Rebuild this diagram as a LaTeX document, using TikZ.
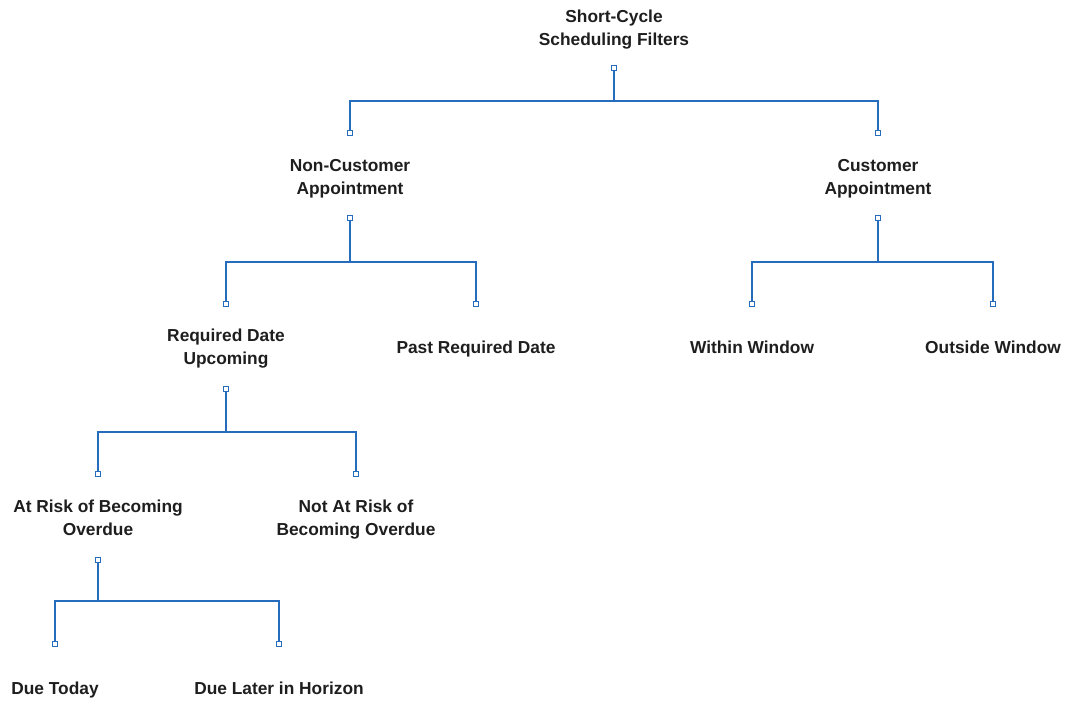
\documentclass[tikz,border=0pt]{standalone}
\usepackage{fontspec}
\setmainfont{Liberation Sans}
\definecolor{linec}{RGB}{38,108,188}
\definecolor{textc}{RGB}{30,30,30}
\tikzset{
  lbl/.style={font=\fontsize{13}{17.25}\selectfont\bfseries, text=textc, align=center, inner sep=0pt},
  port/.style={rectangle, draw=linec, fill=white, line width=0.9pt, minimum size=4.3pt, inner sep=0pt},
  wire/.style={draw=linec, line width=1.1pt}
}
\begin{document}
\begin{tikzpicture}[x=0.75pt,y=-0.75pt]
\useasboundingbox (0,0) rectangle (1066,700);
% labels
\node[lbl] (root) at (614,29.5) {\strut Short-Cycle\\\strut Scheduling Filters};
\node[lbl] (nc) at (350,178.5) {\strut Non-Customer\\\strut Appointment};
\node[lbl] (c) at (878,178.5) {\strut Customer\\\strut Appointment};
\node[lbl] (rdu) at (226,348.5) {\strut Required Date\\\strut Upcoming};
\node[lbl] (prd) at (476,349) {\strut Past Required Date};
\node[lbl] (ww) at (752,349) {\strut Within Window};
\node[lbl] (ow) at (993,349) {\strut Outside Window};
\node[lbl] (ar) at (98,519) {\strut At Risk of Becoming\\\strut Overdue};
\node[lbl] (nar) at (356,519) {\strut Not At Risk of\\\strut Becoming Overdue};
\node[lbl] (dt) at (55,690) {\strut Due Today};
\node[lbl] (dl) at (279,690) {\strut Due Later in Horizon};
% ports
\node[port] (rootout) at (614,68) {};
\node[port] (ncin) at (350,133) {};
\node[port] (ncout) at (350,218) {};
\node[port] (cin) at (878,133) {};
\node[port] (cout) at (878,218) {};
\node[port] (rduin) at (226,304) {};
\node[port] (rduout) at (226,389) {};
\node[port] (prdin) at (476,304) {};
\node[port] (wwin) at (752,304) {};
\node[port] (owin) at (993,304) {};
\node[port] (arin) at (98,474) {};
\node[port] (arout) at (98,560) {};
\node[port] (narin) at (356,474) {};
\node[port] (dtin) at (55,644) {};
\node[port] (dlin) at (279,644) {};
% bus coordinates
\coordinate (b1) at (614,101);
\coordinate (b2) at (350,262);
\coordinate (b3) at (878,262);
\coordinate (b4) at (226,432);
\coordinate (b5) at (98,601);
% wires
\draw[wire] (rootout.south) -- (b1) -| (ncin.north);
\draw[wire] (b1) -| (cin.north);
\draw[wire] (ncout.south) -- (b2) -| (rduin.north);
\draw[wire] (b2) -| (prdin.north);
\draw[wire] (cout.south) -- (b3) -| (wwin.north);
\draw[wire] (b3) -| (owin.north);
\draw[wire] (rduout.south) -- (b4) -| (arin.north);
\draw[wire] (b4) -| (narin.north);
\draw[wire] (arout.south) -- (b5) -| (dtin.north);
\draw[wire] (b5) -| (dlin.north);
\end{tikzpicture}
\end{document}
